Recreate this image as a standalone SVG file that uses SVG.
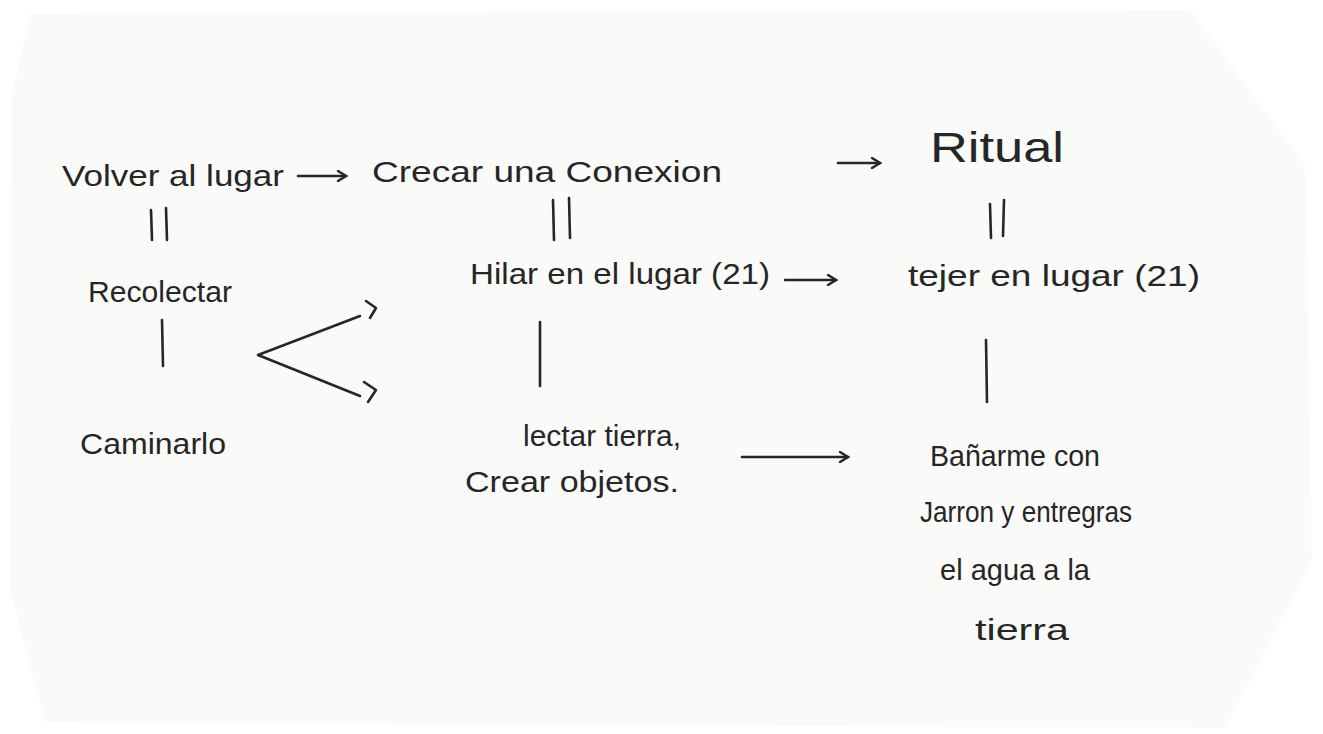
<svg xmlns="http://www.w3.org/2000/svg" width="1323" height="734" viewBox="0 0 1323 734">
<defs>
<style>
.t{font-family:"Liberation Sans","DejaVu Sans",sans-serif;fill:#262626;font-size:30px}
.big{font-size:42px}
.ln{stroke:#262626;stroke-width:2.6;fill:none;stroke-linecap:round;stroke-linejoin:round}
</style>
<marker id="ah" viewBox="0 0 12 12" refX="10" refY="6" markerWidth="12" markerHeight="12" markerUnits="userSpaceOnUse" orient="auto">
<path d="M2,1 L10,6 L2,11" fill="none" stroke="#262626" stroke-width="2.4" stroke-linecap="round"/>
</marker>
</defs>
<rect width="1323" height="734" fill="#ffffff"/>
<polygon points="30,14 1190,10 1305,165 1312,560 1225,728 45,722 10,590 12,95" fill="#fafaf9"/>
<g id="connectors">
<line class="ln" x1="298" y1="176" x2="346" y2="176" marker-end="url(#ah)"/>
<line class="ln" x1="838" y1="163" x2="880" y2="163" marker-end="url(#ah)"/>
<line class="ln" x1="785" y1="280" x2="836" y2="280" marker-end="url(#ah)"/>
<line class="ln" x1="742" y1="457" x2="848" y2="457" marker-end="url(#ah)"/>
<path class="ln" d="M360,316 L258,355 L360,396"/>
<path class="ln" d="M366,301 L376,308 L370,318"/>
<path class="ln" d="M364,382 L376,390 L368,402"/>
<line class="ln" x1="151" y1="210" x2="152" y2="240"/>
<line class="ln" x1="166" y1="208" x2="167" y2="240"/>
<line class="ln" x1="553" y1="200" x2="554" y2="240"/>
<line class="ln" x1="569" y1="198" x2="570" y2="238"/>
<line class="ln" x1="990" y1="204" x2="991" y2="238"/>
<line class="ln" x1="1004" y1="200" x2="1003" y2="236"/>
<line class="ln" x1="162" y1="320" x2="163" y2="366"/>
<line class="ln" x1="540" y1="322" x2="540" y2="386"/>
<line class="ln" x1="986" y1="340" x2="987" y2="402"/>
</g>
<g id="n-volver"><text class="t" x="62" y="186" textLength="222" lengthAdjust="spacingAndGlyphs">Volver al lugar</text></g>
<g id="n-crecar"><text class="t" x="372" y="182" textLength="350" lengthAdjust="spacingAndGlyphs">Crecar una Conexion</text></g>
<g id="n-ritual"><text class="t big" x="930" y="162" textLength="134" lengthAdjust="spacingAndGlyphs">Ritual</text></g>
<g id="n-recolectar"><text class="t" x="88" y="302" textLength="144" lengthAdjust="spacingAndGlyphs">Recolectar</text></g>
<g id="n-caminarlo"><text class="t" x="80" y="454" textLength="146" lengthAdjust="spacingAndGlyphs">Caminarlo</text></g>
<g id="n-hilar"><text class="t" x="470" y="284" textLength="300" lengthAdjust="spacingAndGlyphs">Hilar en el lugar (21)</text></g>
<g id="n-tejer"><text class="t" x="908" y="286" textLength="292" lengthAdjust="spacingAndGlyphs">tejer en lugar (21)</text></g>
<g id="n-lectar">
<text class="t" x="523" y="446" textLength="158" lengthAdjust="spacingAndGlyphs">lectar tierra,</text>
<text class="t" x="465" y="492" textLength="214" lengthAdjust="spacingAndGlyphs">Crear objetos.</text>
</g>
<g id="n-banarme">
<text class="t" x="930" y="466" textLength="170" lengthAdjust="spacingAndGlyphs">Bañarme con</text>
<text class="t" x="920" y="522" textLength="212" lengthAdjust="spacingAndGlyphs">Jarron y entregras</text>
<text class="t" x="940" y="580" textLength="150" lengthAdjust="spacingAndGlyphs">el agua a la</text>
<text class="t" x="975" y="640" textLength="94" lengthAdjust="spacingAndGlyphs">tierra</text>
</g>
</svg>
